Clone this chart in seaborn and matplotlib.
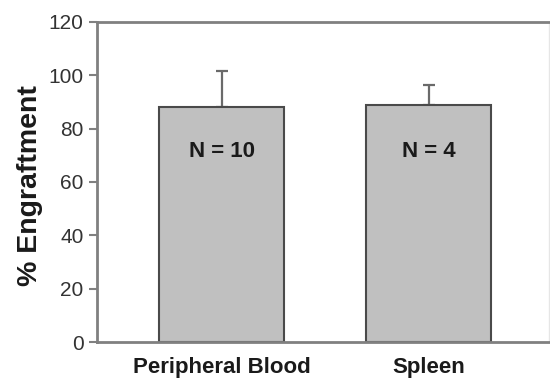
import matplotlib
matplotlib.use("Agg")
import matplotlib.pyplot as plt
import seaborn as sns
import pandas as pd

# Engraftment per tissue: mean, upper SD, and sample size
tissues = ["Peripheral Blood", "Spleen"]
engraftment = [88.0, 89.0]
sd_upper = [13.5, 7.5]
n_mice = [10, 4]

sns.set_theme(style="white")
plt.rcParams["font.family"] = ["Liberation Sans", "DejaVu Sans"]

df = pd.DataFrame({"tissue": tissues, "engraftment": engraftment})

fig = plt.figure(figsize=(5.5, 3.83), dpi=100)
ax = fig.add_axes([0.176, 0.107, 0.822, 0.836])

sns.barplot(data=df, x="tissue", y="engraftment", color="#c0c0c0",
            edgecolor="#4a4a4a", linewidth=1.5, width=0.605,
            saturation=1, errorbar=None, ax=ax, zorder=2)

# upper-only error bars
ax.errorbar(range(len(tissues)), engraftment, yerr=[[0] * len(tissues), sd_upper],
            fmt="none", ecolor="#6a6a6a", elinewidth=1.6, capsize=4, capthick=1.6,
            zorder=1)

for i, (v, n) in enumerate(zip(engraftment, n_mice)):
    ax.text(i, 71.5, f"N = {n}", ha="center", va="center", fontsize=16,
            fontweight="bold", color="#1a1a1a", zorder=3)

ax.set_ylim(0, 120)
ax.set_xlim(-0.604, 1.58)
ax.set_yticks([0, 20, 40, 60, 80, 100, 120])

ax.set_xlabel("")
ax.set_ylabel("% Engraftment", fontsize=20.5, fontweight="bold", color="#1a1a1a")
ax.yaxis.set_label_coords(-0.118, 0.49)

ax.tick_params(axis="y", which="both", left=True, length=6, width=1.5,
               color="#808080", pad=3.5, labelsize=15, labelcolor="#333333")
ax.tick_params(axis="x", bottom=False, pad=5, labelsize=16, labelcolor="#1a1a1a")
for lbl in ax.get_xticklabels():
    lbl.set_fontweight("bold")

for side in ["left", "bottom", "top"]:
    ax.spines[side].set_color("#808080")
    ax.spines[side].set_linewidth(2)
ax.spines["right"].set_color("#e6e6e6")
ax.spines["right"].set_linewidth(1)

fig.savefig("out.png", dpi=100)
